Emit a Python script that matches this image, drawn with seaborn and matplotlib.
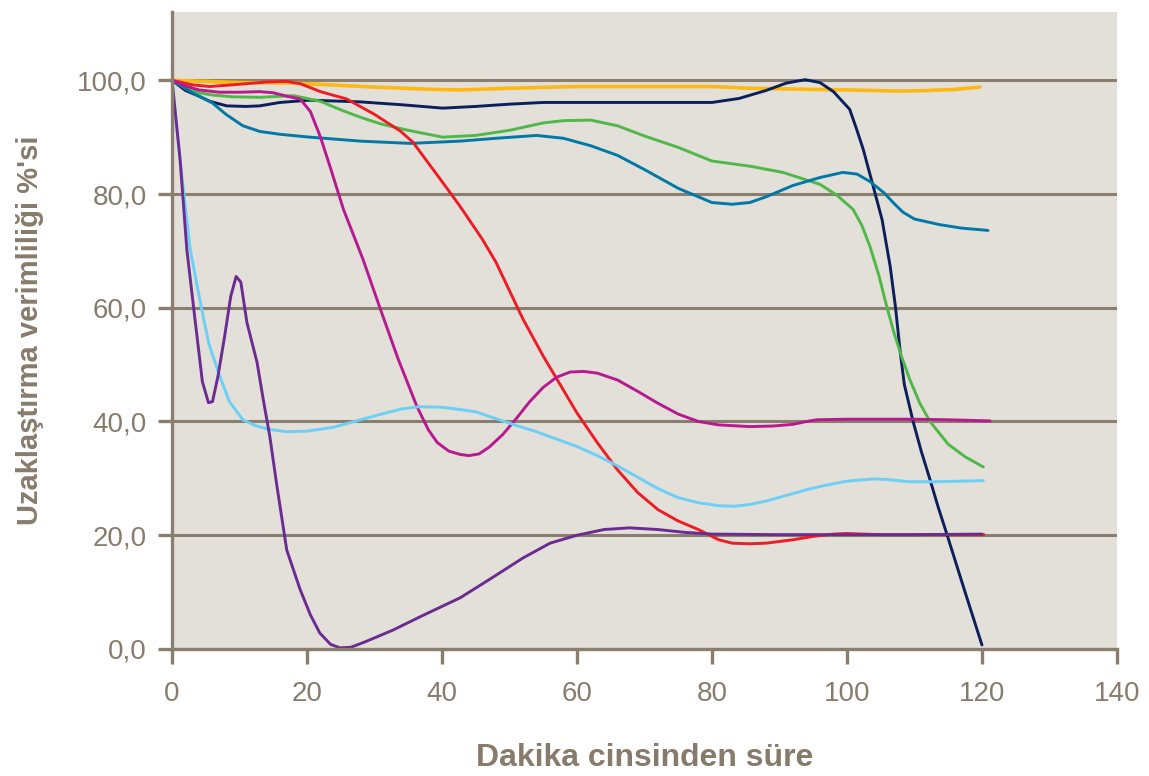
"""Uzaklaştırma verimliliği vs. süre, re-drawn with seaborn."""

import matplotlib

matplotlib.use("Agg")
import matplotlib.pyplot as plt
import pandas as pd
import seaborn as sns
from matplotlib.ticker import FuncFormatter

# values (minutes, %)
yellow_x = [0, 5, 10, 18, 25, 30, 38.7, 42.7, 50, 60, 70, 80, 85.6, 90, 100, 107.9, 112, 116, 119.7]
yellow_y = [100, 99.8, 99.6, 99.5, 99.1, 98.8, 98.4, 98.3, 98.6, 98.9, 98.9, 98.9, 98.6, 98.5, 98.3, 98.1, 98.2, 98.4, 98.8]

navy_x = [0, 2, 4, 5.6, 8.1, 11, 13, 16, 20.4, 27.9, 34, 40.1, 45, 50, 55, 60, 70, 80, 84, 88,
          91, 93.8, 96, 98, 100.4, 101.4, 102.4, 103.9, 105.2, 106.4, 107.2, 107.9, 108.5,
          109.8, 111, 112.3, 113.5, 114.8, 117.5, 120]
navy_y = [100, 98.2, 97.2, 96.3, 95.5, 95.4, 95.5, 96.1, 96.5, 96.2, 95.7, 95.1, 95.4, 95.8, 96.1,
          96.1, 96.1, 96.1, 96.8, 98.2, 99.5, 100.1, 99.6, 98, 94.9, 91.5, 87.9, 81.3, 75.5,
          67.3, 60, 52.1, 46.5, 40, 34.8, 29.8, 25, 20.2, 10, 0.7]

green_x = [0, 2, 4, 6, 9, 13, 18, 22, 25, 27.9, 31, 35, 40.1, 45, 50, 55, 58, 62, 66, 70, 75, 80,
           85.6, 90.5, 96, 98.5, 100.9, 102.2, 103.4, 104.7, 105.9, 107, 108.1, 109.3, 110.8,
           112.3, 115, 117.5, 120.2]
green_y = [100, 98.7, 97.8, 97.4, 97.1, 97, 97.3, 96.3, 94.8, 93.5, 92.3, 91.2, 90, 90.3, 91.2,
           92.5, 92.9, 93, 92, 90.2, 88.2, 85.8, 84.9, 83.8, 81.7, 79.8, 77.3, 74.5, 70.8,
           65.8, 60.2, 55.5, 51.4, 47.4, 43.2, 40, 36, 33.8, 32]

teal_x = [0, 2, 4, 6, 8, 10.5, 13, 16, 20.4, 27.9, 35.3, 42.7, 48, 54, 58, 62, 66, 70, 75, 80,
          83, 85.6, 88, 92, 96, 99.4, 101.5, 103.4, 105.5, 107, 108.3, 110, 113.8, 117, 120.9]
teal_y = [100, 98.5, 97.2, 96, 94, 92, 91, 90.5, 90, 89.3, 88.9, 89.3, 89.8, 90.3, 89.8, 88.5,
          86.8, 84.3, 81, 78.5, 78.2, 78.5, 79.5, 81.5, 82.9, 83.8, 83.5, 82.2, 80.2, 78.3,
          76.8, 75.6, 74.6, 74, 73.6]

red_x = [0, 3, 5.6, 10, 14, 17, 19, 22, 25.9, 30, 33.8, 35.7, 40, 42.7, 46, 48, 50, 52, 55, 58,
         60, 63, 66, 69, 72, 75, 78, 81, 83, 85.6, 88, 92, 95, 98, 100, 105, 110, 120.3]
red_y = [100, 99.2, 98.9, 99.3, 99.7, 99.8, 99.4, 98, 96.7, 94, 91.1, 89.1, 82.2, 77.8, 72, 68,
         63, 58, 51.5, 45.5, 41.5, 36.3, 31.5, 27.5, 24.5, 22.5, 21, 19.2, 18.6, 18.5, 18.6,
         19.2, 19.8, 20.2, 20.3, 20.1, 20.1, 20.1]

magenta_x = [0, 2, 4, 7, 10, 13, 15, 17, 19, 20.5, 22, 23.5, 25.4, 28.3, 30.8, 33.5, 36.3, 38,
             39.3, 41, 42.7, 44, 45.5, 47, 49, 51, 53, 55, 57, 59, 61, 63, 66, 69, 72, 75, 78,
             81, 85.6, 89, 92, 94, 95.5, 100, 110, 115, 121.2]
magenta_y = [100, 99, 98.3, 97.9, 97.9, 98, 97.8, 97.2, 96.7, 94.5, 90, 84.5, 77.3, 68.5, 60, 51,
             42.6, 38.5, 36.3, 34.8, 34.2, 34, 34.3, 35.5, 37.7, 40.5, 43.5, 46, 47.8, 48.7,
             48.8, 48.5, 47.3, 45.3, 43.2, 41.3, 40, 39.4, 39.1, 39.2, 39.5, 40, 40.3, 40.4,
             40.4, 40.3, 40.1]

lightblue_x = [0, 1.2, 2.7, 4.4, 5.5, 7.1, 8.5, 10.5, 12.5, 14.5, 17, 20, 24, 27.9, 31, 34, 36.7,
               40, 42.7, 45, 48, 51, 54, 57, 60, 63, 66, 69, 72, 75, 78, 81, 83.4, 85.6, 88, 91,
               94, 96.5, 100, 103.9, 106, 109.3, 113, 120.2]
lightblue_y = [100, 86, 70.2, 59.7, 53.5, 47.9, 43.5, 40.3, 39.2, 38.6, 38.2, 38.3, 39, 40.3,
               41.3, 42.2, 42.6, 42.5, 42.1, 41.7, 40.5, 39.3, 38.2, 36.9, 35.6, 34, 32.2, 30.2,
               28.2, 26.6, 25.7, 25.2, 25.1, 25.4, 26, 27, 28, 28.7, 29.5, 29.9, 29.8, 29.4,
               29.4, 29.6]

purple_x = [0, 1.2, 2.2, 3.5, 4.5, 5.4, 6, 6.8, 7.8, 8.7, 9.5, 10.2, 11.1, 12.6, 13.5, 14.5,
            15.5, 17, 19, 20.5, 21.9, 23.5, 24.9, 26.5, 28.5, 32.7, 37, 42.7, 47, 52, 56, 60,
            64, 67.8, 72, 76, 80, 90, 100, 110, 120]
purple_y = [100, 86, 70.2, 57, 47, 43.3, 43.5, 47.9, 55, 62, 65.5, 64.5, 57.4, 50.4, 44, 37.3,
            29, 17.4, 10.4, 6, 2.8, 0.8, 0.2, 0.3, 1.2, 3.3, 5.8, 9, 12.2, 16, 18.6, 20, 21,
            21.3, 21, 20.5, 20.2, 20.1, 20.1, 20.1, 20.2]

series = {
    "yellow": (yellow_x, yellow_y, "#fdb913"),
    "navy": (navy_x, navy_y, "#0b1f5a"),
    "green": (green_x, green_y, "#4fb848"),
    "teal": (teal_x, teal_y, "#0079a6"),
    "red": (red_x, red_y, "#ee1c25"),
    "magenta": (magenta_x, magenta_y, "#b7198f"),
    "lightblue": (lightblue_x, lightblue_y, "#6ccff6"),
    "purple": (purple_x, purple_y, "#6b2c91"),
}

x_ticks = [0, 20, 40, 60, 80, 100, 120, 140]
y_ticks = [0, 20, 40, 60, 80, 100]

frames = [pd.DataFrame({"dakika": xs, "verim": ys, "seri": name})
          for name, (xs, ys, _) in series.items()]
data = pd.concat(frames, ignore_index=True)
palette = {name: c for name, (_, _, c) in series.items()}

axis_col = "#8a7e6e"
text_col = "#877c6c"

sns.set_style("white")
plt.rcParams["font.family"] = ["Liberation Sans", "DejaVu Sans"]

fig = plt.figure(figsize=(11.49, 7.76), dpi=100)
ax = fig.add_axes([0.1497, 0.1637, 0.8224, 0.8208])
ax.set_facecolor("#e3dfd9")

for y in y_ticks[1:]:
    ax.axhline(y, color=axis_col, lw=2.2, zorder=1)

sns.lineplot(data=data, x="dakika", y="verim", hue="seri", palette=palette,
             estimator=None, sort=False, lw=2.1, legend=False, ax=ax, zorder=3)
for line in ax.lines:
    line.set_solid_joinstyle("round")
    if line.get_color() == "#fdb913":
        line.set_linewidth(2.6)

ax.set_xlim(0, 140)
ax.set_ylim(0, 112)
ax.set_xticks(x_ticks)
ax.set_yticks(y_ticks)
ax.yaxis.set_major_formatter(FuncFormatter(lambda v, _: f"{v:.1f}".replace(".", ",")))

for side in ("top", "right"):
    ax.spines[side].set_visible(False)
for side in ("left", "bottom"):
    ax.spines[side].set_color(axis_col)
    ax.spines[side].set_linewidth(2.4)
    ax.spines[side].set_zorder(4)

ax.tick_params(axis="y", direction="out", length=10, width=2.4, color=axis_col,
               labelsize=20, labelcolor=text_col, pad=8, left=True)
ax.tick_params(axis="x", direction="out", length=11, width=2.4, color=axis_col,
               labelsize=20, labelcolor=text_col, pad=12, bottom=True)

ax.set_xlabel("Dakika cinsinden süre", fontsize=23, fontweight="bold",
              color=text_col, labelpad=26)
ax.set_ylabel("Uzaklaştırma verimliliği %'si", fontsize=21, fontweight="bold",
              color=text_col, labelpad=24)

fig.savefig("out.png", dpi=100)
plt.close(fig)
